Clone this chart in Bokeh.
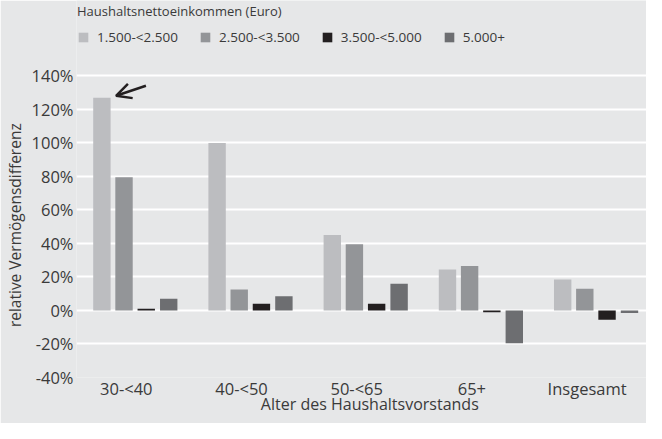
from bokeh.plotting import figure
from bokeh.models import (ColumnDataSource, Range1d, FixedTicker, PrintfTickFormatter,
                          Legend, LegendItem, Arrow, OpenHead)
from bokeh.embed import file_html
from bokeh.resources import INLINE

groups = ["30-<40", "40-<50", "50-<65", "65+", "Insgesamt"]
series = ["1.500-<2.500", "2.500-<3.500", "3.500-<5.000", "5.000+"]
v1 = [127, 100, 45, 24.5, 18.5]
v2 = [79.5, 12.5, 39.5, 26.5, 13]
v3 = [1, 4, 4, -1, -5.5]
v4 = [7, 8.5, 16, -19.5, -1.5]
values = [v1, v2, v3, v4]
colors = ["#bcbdc0", "#939598", "#231f20", "#6d6e71"]
offsets = [-0.212, -0.02, 0.173, 0.368]
yticks = [-40, -20, 0, 20, 40, 60, 80, 100, 120, 140]

BG = "#e6e7e8"
FONT = "Open Sans"
TXT = "#3a3a3a"
NB = "\u00a0"

# the plot frame extends to the top of the canvas so the legend can sit inside it
p = figure(width=646, height=423, output_backend="svg", toolbar_location=None,
           x_range=Range1d(-0.4325, 4.5156), y_range=Range1d(-40, 185.07),
           min_border_left=74, min_border_right=0, min_border_top=0, min_border_bottom=46)
p.background_fill_color = BG
p.border_fill_color = BG
p.outline_line_color = None

items = []
for s, vals, col, off in zip(series, values, colors, offsets):
    src = ColumnDataSource(dict(x=[i + off for i in range(len(groups))], top=vals))
    r = p.vbar(x="x", top="top", bottom=0, width=0.151, source=src,
               fill_color=col, line_color=None)
    items.append(LegendItem(label=s, renderers=[r]))

p.xgrid.visible = False
p.ygrid.grid_line_color = "white"
p.ygrid.grid_line_width = 2
p.ygrid.ticker = FixedTicker(ticks=yticks)

p.yaxis.ticker = FixedTicker(ticks=yticks)
p.yaxis.formatter = PrintfTickFormatter(format="%d%%")
p.xaxis.ticker = FixedTicker(ticks=list(range(len(groups))))
p.xaxis.major_label_overrides = {i: g for i, g in enumerate(groups)}

for ax in (p.xaxis[0], p.yaxis[0]):
    ax.axis_line_color = None
    ax.major_tick_line_color = None
    ax.minor_tick_line_color = None
    ax.major_tick_out = 0
    ax.major_tick_in = 0
    ax.minor_tick_out = 0
    ax.minor_tick_in = 0
    ax.major_label_text_font = FONT
    ax.major_label_text_font_size = "16.5px"
    ax.major_label_text_color = TXT
    ax.axis_label_text_font = FONT
    ax.axis_label_text_font_style = "normal"
    ax.axis_label_text_color = TXT

p.xaxis.axis_label = NB * 4 + "Alter des Haushaltsvorstands"
p.xaxis.axis_label_text_font_size = "16px"
p.yaxis.axis_label = "relative Vermögensdifferenz" + NB * 18
p.yaxis.axis_label_text_font_size = "15.5px"
p.xaxis.major_label_standoff = -1
p.xaxis.axis_label_standoff = -10
p.yaxis.major_label_standoff = 3
p.yaxis.axis_label_standoff = 3

legend = Legend(items=items, orientation="horizontal", location=(1, 331),
                title="Haushaltsnettoeinkommen (Euro)",
                title_text_font=FONT, title_text_font_size="13px", title_text_color=TXT,
                title_text_font_style="normal", title_standoff=8,
                label_text_font=FONT, label_text_font_size="13.5px", label_text_color=TXT,
                glyph_width=12, glyph_height=12, label_standoff=8, spacing=21,
                background_fill_alpha=0, border_line_color=None, padding=0, margin=0)
p.add_layout(legend, "center")

p.add_layout(Arrow(end=OpenHead(size=15, line_width=2.5, line_color="#231f20"),
                   x_start=0.170, y_start=134.15, x_end=-0.089, y_end=128.18,
                   line_width=2.5, line_color="#231f20"))

open("out.html", "w").write(file_html(p, INLINE))
